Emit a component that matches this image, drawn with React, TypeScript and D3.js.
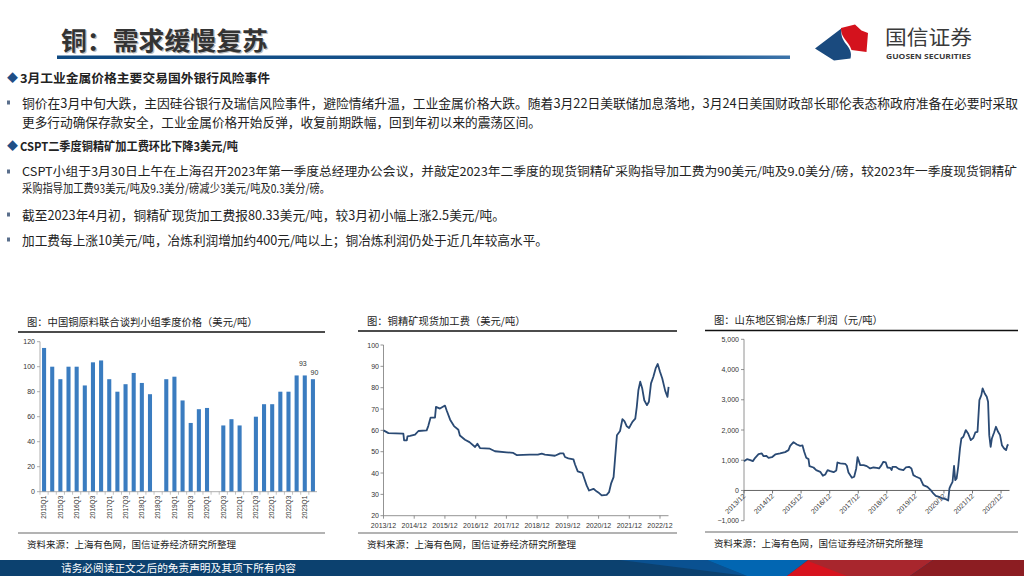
import React from 'react';
import * as d3 from 'd3';

const CJK = '"Noto Sans CJK SC", "Noto Sans", sans-serif';
const NUM = '"Liberation Sans", Arial, "Noto Sans CJK SC", sans-serif';

// ---------- Chart 1: CSPT quarterly TC ----------
const quarterLabels = [
  '2015Q1','2015Q2','2015Q3','2015Q4','2016Q1','2016Q2','2016Q3','2016Q4',
  '2017Q1','2017Q2','2017Q3','2017Q4','2018Q1','2018Q2','2018Q3','2018Q4',
  '2019Q1','2019Q2','2019Q3','2019Q4','2020Q1','2020Q2','2020Q3','2020Q4',
  '2021Q1','2021Q2','2021Q3','2021Q4','2022Q1','2022Q2','2022Q3','2022Q4',
  '2023Q1','2023Q2',
];
const quarterValues: (number | null)[] = [
  115, 100, 90, 100, 100, 85, 103.5, 105,
  90, 80, 86, 95, 87, 78, null, 90,
  92, 73, 55, 66, 67, null, 53, 58,
  53, null, 60, 70, 70, 80, 80, 93,
  93, 90,
];
const labeledQuarters = ['2023Q1', '2023Q2'];
const barTicks = [0, 20, 40, 60, 80, 100, 120];

// ---------- Chart 2: spot TC ----------
const tcDates = [
  '2013-12-01','2014-01-29','2014-07-25','2014-08-03','2014-09-04','2014-09-12','2014-10-13','2014-12-11',
  '2015-01-20','2015-04-28','2015-05-17','2015-06-14','2015-08-05','2015-08-17','2015-10-03','2015-12-02',
  '2015-12-21','2016-02-01','2016-03-18','2016-05-09','2016-05-27','2016-07-27','2016-09-18','2016-11-24',
  '2016-12-21','2017-01-21','2017-05-18','2017-07-18','2017-12-03','2018-02-21','2018-04-01','2018-09-06',
  '2018-12-10','2019-01-25','2019-03-04','2019-07-01','2019-09-01','2019-10-10','2019-10-28','2019-12-07',
  '2020-02-06','2020-02-25','2020-03-28','2020-05-22','2020-06-15','2020-07-12','2020-08-10','2020-10-01',
  '2020-11-10','2020-12-07','2021-01-07','2021-03-07','2021-04-04','2021-04-28','2021-05-28','2021-06-13',
  '2021-07-07','2021-08-13','2021-09-10','2021-10-04','2021-11-01','2021-11-28','2022-01-07','2022-02-10',
  '2022-02-28','2022-03-19','2022-04-10','2022-05-04','2022-05-28','2022-06-28','2022-07-22','2022-08-16',
  '2022-09-13','2022-10-10','2022-11-04','2022-12-01','2022-12-28','2023-02-01','2023-02-28','2023-03-13',
];
const tcValues = [
  60, 58.7, 58.5, 55.3, 55.3, 57.2, 57.4, 58,
  59.7, 60, 62, 66, 66, 71, 70.2, 71.6,
  69.4, 65, 62, 60.3, 57.6, 55.6, 54.5, 52.2,
  53.7, 51.7, 51.4, 50.2, 49.7, 49.4, 48.4, 48.6,
  48.6, 49.1, 48.6, 48.1, 49.2, 49.2, 47.5, 46.9,
  46.4, 44, 40.8, 40.1, 37.3, 34.2, 31.8, 32.6,
  31.3, 30.6, 29.5, 29.8, 31, 35, 38.1, 45.9,
  57.7, 59.7, 65.2, 64.3, 61.9, 61.1, 64, 65.5,
  71, 78.8, 82.8, 79.6, 74.1, 71.8, 73.4, 82,
  85.1, 89, 91.1, 87.5, 84.3, 78.5, 75.7, 80.4,
];
const tcTicks = [20, 30, 40, 50, 60, 70, 80, 90, 100];

// ---------- Chart 3: smelter profit ----------
const profitDates = [
  '2013-12-01','2014-01-08','2014-02-20','2014-03-24','2014-04-23','2014-06-05','2014-07-17','2014-08-08',
  '2014-09-11','2014-10-11','2014-11-23','2015-01-05','2015-03-08','2015-05-11','2015-06-23','2015-07-14',
  '2015-08-26','2015-10-08','2015-11-20','2015-12-19','2016-01-10','2016-02-05','2016-03-05','2016-03-17',
  '2016-05-08','2016-06-11','2016-08-02','2016-09-05','2016-10-05','2016-11-04','2016-12-08','2017-01-20',
  '2017-02-23','2017-03-10','2017-04-14','2017-06-17','2017-07-08','2017-07-29','2017-09-11','2017-10-10',
  '2017-11-05','2017-11-22','2017-12-26','2018-02-08','2018-03-20','2018-05-02','2018-06-14','2018-07-26',
  '2018-08-24','2018-09-24','2018-10-18','2018-11-18','2018-12-09','2019-01-12','2019-02-01','2019-02-12',
  '2019-03-24','2019-05-06','2019-07-01','2019-08-01','2019-09-12','2019-10-12','2019-11-06','2019-12-06',
  '2020-02-01','2020-03-12','2020-05-03','2020-06-15','2020-07-18','2020-08-18','2020-10-01','2020-11-12',
  '2020-12-24','2021-01-24','2021-02-09','2021-02-27','2021-03-21','2021-04-09','2021-04-24','2021-05-12',
  '2021-06-01','2021-06-24','2021-07-12','2021-08-06','2021-09-06','2021-10-06','2021-11-09','2021-12-12',
  '2022-01-06','2022-02-03','2022-02-27','2022-03-24','2022-04-09','2022-05-06','2022-06-01','2022-06-18',
  '2022-07-03','2022-07-21','2022-08-06','2022-09-03','2022-09-27','2022-10-24','2022-11-18','2022-12-12',
  '2023-01-09','2023-02-03','2023-02-21','2023-03-06',
];
const profitValues = [
  970, 1036, 1003, 970, 1080, 1200, 1224, 1135,
  1147, 1080, 1100, 1190, 1224, 1268, 1334, 1477,
  1599, 1521, 1477, 1488, 1279, 1080, 1036, 805,
  760, 673, 617, 485, 529, 673, 639, 606,
  662, 926, 893, 882, 816, 595, 419, 452,
  728, 1102, 838, 838, 805, 728, 760, 750,
  728, 838, 948, 926, 760, 750, 673, 783,
  783, 706, 673, 760, 783, 728, 507, 463,
  397, 176, 121, 11, -99, -176, -210, -265,
  -287, -331, 66, 176, 287, 816, 342, 397,
  783, 1389, 1720, 1775, 1996, 1885, 1665, 1742,
  1919, 1940, 2988, 3153, 3374, 3208, 3098, 2933,
  1830, 1444, 1720, 1919, 2106, 1940, 1830, 1499,
  1389, 1334, 1499, 1521,
];
const profitTicks = [-1000, 0, 1000, 2000, 3000, 4000, 5000];

const yearTickDates = [
  '2013-12-01','2014-12-01','2015-12-01','2016-12-01','2017-12-01',
  '2018-12-01','2019-12-01','2020-12-01','2021-12-01','2022-12-01',
];

// ---------- Texts ----------
const slideTitle = '铜：需求缓慢复苏';
const section1 = '3月工业金属价格主要交易国外银行风险事件';
const bullet1a = '铜价在3月中旬大跌，主因硅谷银行及瑞信风险事件，避险情绪升温，工业金属价格大跌。随着3月22日美联储加息落地，3月24日美国财政部长耶伦表态称政府准备在必要时采取';
const bullet1b = '更多行动确保存款安全，工业金属价格开始反弹，收复前期跌幅，回到年初以来的震荡区间。';
const section2 = 'CSPT二季度铜精矿加工费环比下降3美元/吨';
const bullet2a = 'CSPT小组于3月30日上午在上海召开2023年第一季度总经理办公会议，并敲定2023年二季度的现货铜精矿采购指导加工费为90美元/吨及9.0美分/磅，较2023年一季度现货铜精矿';
const bullet2b = '采购指导加工费93美元/吨及9.3美分/磅减少3美元/吨及0.3美分/磅。';
const bullet3 = '截至2023年4月初，铜精矿现货加工费报80.33美元/吨，较3月初小幅上涨2.5美元/吨。';
const bullet4 = '加工费每上涨10美元/吨，冶炼利润增加约400元/吨以上；铜冶炼利润仍处于近几年较高水平。';
const chart1Title = '图：中国铜原料联合谈判小组季度价格（美元/吨）';
const chart2Title = '图：铜精矿现货加工费（美元/吨）';
const chart3Title = '图：山东地区铜冶炼厂利润（元/吨）';
const sourceText = '资料来源：上海有色网，国信证券经济研究所整理';
const footerText = '请务必阅读正文之后的免责声明及其项下所有内容';

const parse = d3.timeParse('%Y-%m-%d');
const fmtYM = d3.timeFormat('%Y/%m');
const AXIS = '#9a9a9a';
const TXT = '#333';
const LINE = '#2a4a74';
const BAR = '#3a7cc0';

function BarChart() {
  const x = d3.scaleBand<string>().domain(quarterLabels).range([40, 317]).paddingInner(0.5).paddingOuter(0.25);
  const y = d3.scaleLinear().domain([0, 120]).range([491.7, 341.7]);
  const step = x.step();
  return (
    <g>
      {barTicks.map((t) => (
        <g key={t}>
          <line x1={37} x2={40} y1={y(t)} y2={y(t)} stroke={AXIS} strokeWidth={0.8} />
          <text x={35} y={y(t) + 2.5} fontSize={7} fill={TXT} textAnchor="end" fontFamily={NUM}>{t}</text>
        </g>
      ))}
      <line x1={40} x2={40} y1={y(120)} y2={y(0)} stroke={AXIS} strokeWidth={0.8} />
      {quarterLabels.map((q, i) => {
        const v = quarterValues[i];
        const cx = (x(q) as number) + x.bandwidth() / 2;
        return (
          <g key={q}>
            {v !== null && (
              <rect x={x(q)} y={y(v)} width={x.bandwidth()} height={y(0) - y(v)} fill={BAR} />
            )}
            {v !== null && labeledQuarters.includes(q) && (
              <text x={cx - (i === quarterLabels.length - 1 ? -1.5 : 2)} y={y(v) - (i === quarterLabels.length - 1 ? 4 : 9)} fontSize={7} fill={TXT} textAnchor="middle" fontFamily={NUM}>{v}</text>
            )}
            <line x1={(x(q) as number) - step * 0.25} x2={(x(q) as number) - step * 0.25} y1={y(0)} y2={y(0) + 3} stroke={AXIS} strokeWidth={0.6} />
            {i % 2 === 0 && (
              <text transform={`translate(${cx + 2.3},${y(0) + 4}) rotate(-90)`} fontSize={6.5} fill={TXT} textAnchor="end" fontFamily={NUM}>{q}</text>
            )}
          </g>
        );
      })}
      <line x1={40} x2={317} y1={y(0)} y2={y(0)} stroke={AXIS} strokeWidth={0.8} />
    </g>
  );
}

function TcChart() {
  const x = d3.scaleTime().domain([parse('2013-12-01')!, parse('2023-03-12')!]).range([383.5, 668.5]);
  const y = d3.scaleLinear().domain([20, 100]).range([515.7, 345]);
  const pts = tcDates.map((d, i) => [x(parse(d)!), y(tcValues[i])] as [number, number]);
  const path = d3.line()(pts) as string;
  return (
    <g>
      {tcTicks.map((t) => (
        <g key={t}>
          <line x1={380.5} x2={383.5} y1={y(t)} y2={y(t)} stroke="#777" strokeWidth={0.8} />
          <text x={379} y={y(t) + 2.5} fontSize={7} fill={TXT} textAnchor="end" fontFamily={NUM}>{t}</text>
        </g>
      ))}
      <line x1={383.5} x2={383.5} y1={y(100)} y2={y(20)} stroke="#777" strokeWidth={0.8} />
      <line x1={383.5} x2={668.5} y1={y(20)} y2={y(20)} stroke="#777" strokeWidth={0.8} />
      {yearTickDates.map((d) => {
        const xx = x(parse(d)!);
        return (
          <g key={d}>
            <line x1={xx} x2={xx} y1={y(20)} y2={y(20) + 3} stroke="#777" strokeWidth={0.8} />
            <text x={xx} y={y(20) + 12} fontSize={7} fill={TXT} textAnchor="middle" fontFamily={NUM}>{fmtYM(parse(d)!)}</text>
          </g>
        );
      })}
      <path d={path} fill="none" stroke={LINE} strokeWidth={1.8} strokeLinejoin="round" />
    </g>
  );
}

function ProfitChart() {
  const x = d3.scaleTime().domain([parse('2013-12-01')!, parse('2023-03-19')!]).range([744, 1009.5]);
  const y = d3.scaleLinear().domain([-1000, 5000]).range([520.7, 339.3]);
  const pts = profitDates.map((d, i) => [x(parse(d)!), y(profitValues[i])] as [number, number]);
  const path = d3.line()(pts) as string;
  const f = d3.format(',');
  return (
    <g>
      {profitTicks.map((t) => (
        <g key={t}>
          <line x1={741} x2={744} y1={y(t)} y2={y(t)} stroke="#777" strokeWidth={0.8} />
          <text x={739} y={y(t) + 2.5} fontSize={7} fill={TXT} textAnchor="end" fontFamily={NUM}>{f(t)}</text>
        </g>
      ))}
      <line x1={744} x2={744} y1={y(5000)} y2={y(-1000)} stroke="#777" strokeWidth={0.8} />
      <line x1={744} x2={1009.5} y1={y(0)} y2={y(0)} stroke="#555" strokeWidth={0.9} />
      {yearTickDates.map((d) => {
        const xx = x(parse(d)!);
        return (
          <g key={d}>
            <line x1={xx} x2={xx} y1={y(0)} y2={y(0) + 3} stroke="#555" strokeWidth={0.8} />
            <text transform={`translate(${xx + 2},${y(0) + 6}) rotate(-45)`} fontSize={7} fill={TXT} textAnchor="end" fontFamily={NUM}>{fmtYM(parse(d)!)}</text>
          </g>
        );
      })}
      <path d={path} fill="none" stroke={LINE} strokeWidth={1.8} strokeLinejoin="round" />
    </g>
  );
}

function Panel({ x1, x2, lineY, titleX, title, bottomY }: { x1: number; x2: number; lineY: number; titleX: number; title: string; bottomY: number }) {
  return (
    <g>
      <text x={titleX} y={lineY - 6.5} fontSize={10.3} fill="#222" fontFamily={CJK}>{title}</text>
      <line x1={x1} x2={x2} y1={lineY} y2={lineY} stroke="#111" strokeWidth={1.3} />
      <line x1={x1} x2={x2} y1={bottomY} y2={bottomY} stroke="#9a9a9a" strokeWidth={1.5} />
      <text x={titleX} y={bottomY + 14.5} fontSize={9.5} fill="#222" fontFamily={CJK}>{sourceText}</text>
    </g>
  );
}

function Bullet({ y }: { y: number }) {
  return <rect x={7} y={y - 2.5} width={3} height={4} fill="#5a6f8c" />;
}

export default function App() {
  const body = { fontFamily: CJK, fill: '#222' } as const;
  return (
    <svg width={1024} height={576} viewBox="0 0 1024 576" style={{ position: 'absolute', left: 0, top: 0, background: '#fff' }}>
      <rect x={0} y={0} width={1024} height={576} fill="#fff" />
      {/* Header */}
      <text x={61} y={50} fontSize={25} fontWeight="bold" fill="#bdbdbd" fontFamily={CJK} textLength={207} lengthAdjust="spacingAndGlyphs" transform="translate(1.2,1.2)">{slideTitle}</text>
      <text x={61} y={50} fontSize={25} fontWeight="bold" fill="#333" fontFamily={CJK} textLength={207} lengthAdjust="spacingAndGlyphs">{slideTitle}</text>
      <defs>
        <linearGradient id="hdr" x1="0" x2="1" y1="0" y2="0">
          <stop offset="0" stopColor="#0f4a82" />
          <stop offset="0.85" stopColor="#1a5791" />
          <stop offset="1" stopColor="#3d74aa" />
        </linearGradient>
      </defs>
      <rect x={57} y={55.5} width={733} height={3.5} fill="url(#hdr)" />
      {/* Logo */}
      <path d="M815,48.5 L842,28 C840,35 843,40 846,44 C850,49 852,53 850.5,58.5 L834,60.5 Z" fill="#1a4a7e" />
      <path d="M841,28 L855,24.5 L861.5,30.5 L868,33 L866.5,52 L851.5,50 C850,45 846.5,41.5 844,38 C842,35 841,32 841,28 Z" fill="#d4121d" />
      <text x={885} y={45} fontSize={20} fill="#3a3a3a" fontFamily={CJK} textLength={87} lengthAdjust="spacingAndGlyphs">国信证券</text>
      <text x={886} y={59} fontSize={7.2} fill="#3a3a3a" fontWeight="bold" fontFamily={'"Open Sans", "Liberation Sans", sans-serif'} textLength={85} lengthAdjust="spacingAndGlyphs">GUOSEN SECURITIES</text>

      {/* Body */}
      <text x={7} y={82} fontSize={11} fill="#1f4e86" fontFamily={CJK}>◆</text>
      <text x={20} y={82.5} fontSize={12.2} fontWeight="bold" {...body} textLength={250} lengthAdjust="spacingAndGlyphs">{section1}</text>
      <Bullet y={103} />
      <text x={22} y={107.5} fontSize={12.6} {...body} textLength={996} lengthAdjust="spacingAndGlyphs">{bullet1a}</text>
      <text x={22} y={127} fontSize={12.6} {...body} textLength={519} lengthAdjust="spacingAndGlyphs">{bullet1b}</text>
      <text x={7} y={150} fontSize={11} fill="#1f4e86" fontFamily={CJK}>◆</text>
      <text x={20} y={150.5} fontSize={12.2} fontWeight="bold" {...body} textLength={218} lengthAdjust="spacingAndGlyphs">{section2}</text>
      <Bullet y={172} />
      <text x={22} y={175.8} fontSize={12} {...body} textLength={995} lengthAdjust="spacingAndGlyphs">{bullet2a}</text>
      <text x={22} y={192.6} fontSize={12} {...body} textLength={308} lengthAdjust="spacingAndGlyphs">{bullet2b}</text>
      <Bullet y={215} />
      <text x={22} y={219.5} fontSize={12.6} {...body} textLength={483} lengthAdjust="spacingAndGlyphs">{bullet3}</text>
      <Bullet y={240} />
      <text x={22} y={244.5} fontSize={12.6} {...body} textLength={526} lengthAdjust="spacingAndGlyphs">{bullet4}</text>

      {/* Panels */}
      <Panel x1={18} x2={325} lineY={332} titleX={27} title={chart1Title} bottomY={533} />
      <Panel x1={358} x2={677} lineY={331} titleX={367} title={chart2Title} bottomY={533} />
      <Panel x1={705} x2={1018} lineY={330.5} titleX={714} title={chart3Title} bottomY={532} />
      <BarChart />
      <TcChart />
      <ProfitChart />

      {/* Footer */}
      <rect x={0} y={560} width={1024} height={16} fill="#0c416f" />
      <polygon points="620,560 707,560 747,576" fill="#0a5191" />
      <polygon points="707,560 808,560 787,576 747,576" fill="#0266b2" />
      <polygon points="808,560 933,560 910,576 787,576" fill="#a8262d" />
      <polygon points="808,561 787,576 847,576" fill="#d7131e" />
      <polygon points="933,560 1024,560 1024,576 910,576" fill="#8c1d22" />
      <text x={61} y={572} fontSize={10.6} fill="#fff" fontFamily={CJK} textLength={235} lengthAdjust="spacingAndGlyphs">{footerText}</text>
    </svg>
  );
}
